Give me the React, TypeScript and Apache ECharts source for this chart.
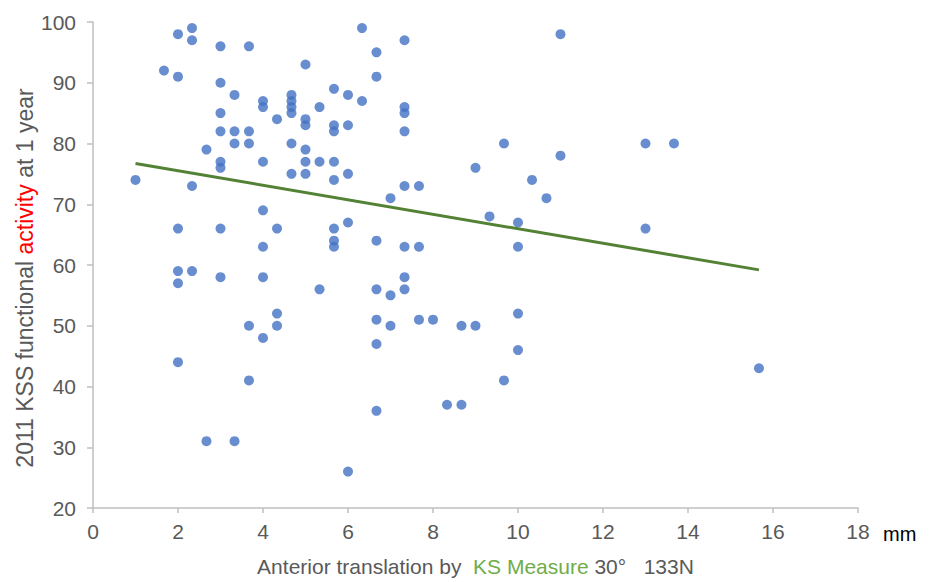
import React, { useEffect, useRef } from "react";
import * as echarts from "echarts";

// Anterior translation (mm) and KSS functional activity score at 1 year
const translationMm = [
  1,
  1.67,
  2, 2, 2, 2, 2, 2,
  2.33, 2.33, 2.33, 2.33,
  2.67, 2.67,
  3, 3, 3, 3, 3, 3, 3, 3,
  3.33, 3.33, 3.33, 3.33,
  3.67, 3.67, 3.67, 3.67, 3.67,
  4, 4, 4, 4, 4, 4, 4,
  4.33, 4.33, 4.33, 4.33,
  4.67, 4.67, 4.67, 4.67, 4.67, 4.67,
  5, 5, 5, 5, 5, 5,
  5.33, 5.33, 5.33,
  5.67, 5.67, 5.67, 5.67, 5.67, 5.67, 5.67, 5.67,
  6, 6, 6, 6, 6,
  6.33, 6.33,
  6.67, 6.67, 6.67, 6.67, 6.67, 6.67, 6.67,
  7, 7, 7,
  7.33, 7.33, 7.33, 7.33, 7.33, 7.33, 7.33, 7.33,
  7.67, 7.67, 7.67,
  8,
  8.33,
  8.67, 8.67,
  9, 9,
  9.33,
  9.67, 9.67,
  10, 10, 10, 10,
  10.33,
  10.67,
  11, 11,
  13, 13,
  13.67,
  15.67,
];

const kssActivity = [
  74,
  92,
  98, 91, 66, 59, 57, 44,
  99, 97, 73, 59,
  79, 31,
  96, 90, 85, 82, 77, 76, 66, 58,
  88, 82, 80, 31,
  96, 82, 80, 50, 41,
  87, 86, 77, 69, 63, 58, 48,
  84, 66, 52, 50,
  88, 87, 86, 85, 80, 75,
  93, 84, 83, 79, 77, 75,
  86, 77, 56,
  89, 83, 82, 77, 74, 66, 64, 63,
  88, 83, 75, 67, 26,
  99, 87,
  95, 91, 64, 56, 51, 47, 36,
  71, 55, 50,
  97, 86, 85, 82, 73, 63, 58, 56,
  73, 63, 51,
  51,
  37,
  50, 37,
  76, 50,
  68,
  80, 41,
  67, 63, 52, 46,
  74,
  71,
  98, 78,
  80, 66,
  80,
  43,
];

// Linear trend line end points
const trendX = [1, 15.67];
const trendY = [76.7, 59.2];

const xTicks = { min: 0, max: 18, interval: 2 };
const yTicks = { min: 20, max: 100, interval: 10 };

const FONT = "'Liberation Sans', Arial, sans-serif";
const GRAY = "#595959";
const FS = 21;

export default function App() {
  const ref = useRef<HTMLDivElement>(null);

  useEffect(() => {
    if (!ref.current) return;
    const chart = echarts.init(ref.current, undefined, { renderer: "svg" });
    const points = translationMm.map((x, i) => [x, kssActivity[i]]);
    const trend = trendX.map((x, i) => [x, trendY[i]]);

    chart.setOption({
      animation: false,
      backgroundColor: "#ffffff",
      textStyle: { fontFamily: FONT },
      grid: { left: 93, right: 75, top: 22, bottom: 72, containLabel: false },
      xAxis: {
        type: "value",
        min: xTicks.min,
        max: xTicks.max,
        interval: xTicks.interval,
        splitLine: { show: false },
        axisLine: { show: true, lineStyle: { color: "#BFBFBF", width: 1.5 } },
        axisTick: { show: true, length: 5, lineStyle: { color: "#BFBFBF", width: 1.5 } },
        axisLabel: { color: GRAY, fontSize: FS, margin: 13, fontFamily: FONT },
        name: "{g|Anterior translation by  }{k|KS Measure}{g| 30°   133N}",
        nameLocation: "middle",
        nameGap: 48,
        nameTextStyle: {
          rich: {
            g: { color: GRAY, fontSize: FS, fontFamily: FONT },
            k: { color: "#70AD47", fontSize: FS, fontFamily: FONT },
          },
        },
      },
      yAxis: {
        type: "value",
        min: yTicks.min,
        max: yTicks.max,
        interval: yTicks.interval,
        splitLine: { show: false },
        axisLine: { show: true, lineStyle: { color: "#BFBFBF", width: 1.5 } },
        axisTick: { show: true, length: 6, lineStyle: { color: "#BFBFBF", width: 1.5 } },
        axisLabel: { color: GRAY, fontSize: FS, margin: 17, fontFamily: FONT },
      },
      graphic: [
        {
          type: "text",
          x: 25,
          y: 278,
          rotation: Math.PI / 2,
          style: {
            text: "{g|2011 KSS functional }{r|activity}{g| at 1 year}",
            align: "center",
            verticalAlign: "middle",
            rich: {
              g: { fill: GRAY, fontSize: 23, fontFamily: FONT },
              r: { fill: "#FF0000", fontSize: 23, fontFamily: FONT },
            },
          },
        },
        {
          type: "text",
          left: 883,
          top: 524,
          style: { text: "mm", fill: "#000000", fontSize: 20, fontFamily: FONT },
        },
      ],
      series: [
        {
          type: "scatter",
          data: points,
          symbol: "circle",
          symbolSize: 10,
          itemStyle: { color: "#4472C4" },
          z: 2,
        },
        {
          type: "line",
          data: trend,
          showSymbol: false,
          symbol: "none",
          lineStyle: { color: "#548235", width: 3 },
          z: 3,
        },
      ],
    });

    return () => chart.dispose();
  }, []);

  return (
    <div
      ref={ref}
      style={{ position: "fixed", left: 0, top: 0, width: 933, height: 582 }}
    />
  );
}
